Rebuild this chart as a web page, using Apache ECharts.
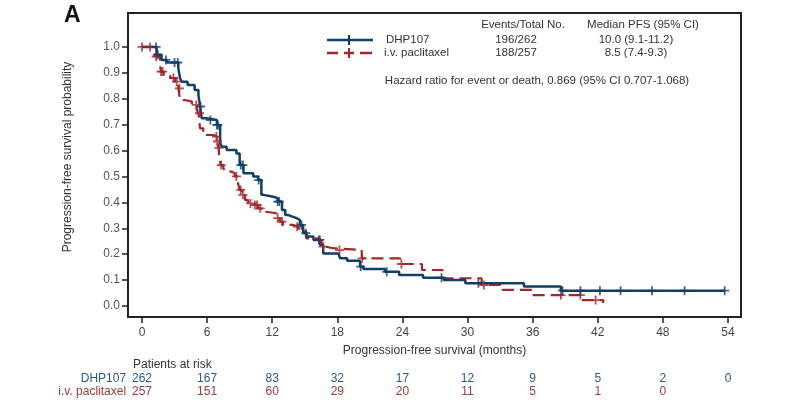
<!DOCTYPE html>
<html>
<head>
<meta charset="utf-8">
<script src="https://cdn.jsdelivr.net/npm/echarts@6/dist/echarts.min.js"></script>
<style>
  html, body { margin: 0; padding: 0; background: #fff; }
  #chart { width: 800px; height: 406px; }
</style>
</head>
<body>
<div id="chart"></div>
<script>
// x ticks (months) and y ticks
const months = [0, 6, 12, 18, 24, 30, 36, 42, 48, 54]
const yTicks = [0, 0.1, 0.2, 0.3, 0.4, 0.5, 0.6, 0.7, 0.8, 0.9, 1.0]

// DHP107 KM steps (time, survival after the step)
const dhpTimes = [0, 1.35, 1.8, 2.3, 3.35, 3.5, 3.65, 4.2, 4.85, 5.2, 5.35, 5.5, 5.95, 6.9, 7.2, 7.35, 7.8, 8.7, 9.0, 9.35,
  10.25, 10.7, 11.0, 11.2, 12.1, 12.5, 12.9, 13.2, 13.5, 13.8, 14.25, 14.55, 14.85, 15.15, 15.8, 16.4, 16.7, 18.1, 18.25, 18.9,
  20.1, 20.4, 22.4, 23.7, 25.9, 27.8, 29.8, 35.2, 38.6, 53.7]
const dhpSurv = [1.0, 0.97, 0.95, 0.94, 0.917, 0.88, 0.866, 0.853, 0.834, 0.815, 0.77, 0.725, 0.718, 0.699, 0.63, 0.615, 0.602, 0.589, 0.544, 0.512,
  0.5, 0.486, 0.429, 0.422, 0.416, 0.403, 0.371, 0.351, 0.346, 0.339, 0.332, 0.313, 0.281, 0.268, 0.255, 0.236, 0.203, 0.197, 0.184, 0.175,
  0.152, 0.143, 0.132, 0.12, 0.109, 0.1, 0.088, 0.075, 0.059, 0.059]
const dhpCensor = [1.3, 1.45, 2.2, 3.0, 3.3, 5.4, 6.3, 6.9, 7.0, 9.1, 9.3, 10.75, 12.5, 12.65, 14.7, 15.1, 16.3,
  20.15, 22.55, 27.6, 31.0, 38.75, 40.4, 42.2, 44.1, 47.0, 50.0, 53.7]

// i.v. paclitaxel KM steps
const pacTimes = [0, 1.05, 1.2, 1.65, 1.75, 2.0, 2.6, 3.05, 3.35, 3.5, 3.95, 4.6, 5.05, 5.2, 5.35, 5.65, 6.6, 6.9, 7.05, 7.15,
  7.25, 7.5, 7.65, 8.25, 8.55, 8.85, 9.0, 9.2, 9.5, 9.8, 10.25, 10.7, 11.0, 11.35, 12.4, 12.7, 13.0, 13.95, 14.4, 14.55,
  15.15, 16.1, 16.55, 16.9, 17.6, 20.25, 23.8, 25.8, 27.7, 31.3, 33.2, 36.0, 40.5, 42.3, 42.5]
const pacSurv = [1.0, 0.988, 0.963, 0.93, 0.905, 0.892, 0.88, 0.866, 0.84, 0.795, 0.789, 0.776, 0.757, 0.744, 0.686, 0.66, 0.654, 0.635, 0.61, 0.564,
  0.544, 0.532, 0.519, 0.512, 0.5, 0.474, 0.448, 0.429, 0.409, 0.396, 0.39, 0.377, 0.364, 0.358, 0.339, 0.326, 0.313, 0.306, 0.3, 0.287,
  0.261, 0.255, 0.229, 0.223, 0.216, 0.184, 0.162, 0.139, 0.107, 0.081, 0.062, 0.042, 0.023, 0.023, 0.012]
const pacCensor = [0, 0.75, 1.3, 1.75, 1.9, 2.9, 3.2, 3.45, 5.0, 5.3, 6.85, 6.95, 7.1, 7.3, 8.7, 9.1, 9.3, 10.0, 10.4, 10.6, 10.9,
  12.5, 12.9, 14.3, 16.4, 16.7, 18.2, 20.3, 23.9, 31.5, 38.6, 40.4, 41.8]

// patients at risk
const riskDhp = [262, 167, 83, 32, 17, 12, 9, 5, 2, 0]
const riskPac = [257, 151, 60, 29, 20, 11, 5, 1, 0]

const blue = '#123f6a'
const red = '#a3262b'
const narrow = '"Liberation Sans Narrow", "Liberation Sans", Arial, sans-serif'
const sans = '"Liberation Sans", Arial, sans-serif'
const plus = 'path://M-1,-5H1V-1H5V1H1V5H-1V1H-5V-1H-1Z'

function survAt(times, surv, t) {
  let s = surv[0]
  for (let i = 0; i < times.length; i++) {
    if (times[i] <= t) s = surv[i]
  }
  return s
}

const chart = echarts.init(document.getElementById('chart'))

function riskAxis(name, values, color, offset) {
  return {
    type: 'value',
    gridIndex: 0,
    position: 'bottom',
    offset,
    min: -1.29,
    max: 55.2,
    axisLine: { show: false, onZero: false },
    axisTick: { show: false },
    splitLine: { show: false },
    axisLabel: {
      customValues: months,
      margin: 0,
      color,
      fontFamily: narrow,
      fontSize: 12,
      formatter: v => {
        const i = months.indexOf(v)
        return i >= 0 && i < values.length ? String(values[i]) : ''
      }
    },
    name,
    nameLocation: 'start',
    nameGap: 1,
    nameTextStyle: { color, fontFamily: narrow, fontSize: 12, align: 'right', verticalAlign: 'top' }
  }
}

chart.setOption({
  animation: false,
  grid: {
    left: 128, top: 13, right: 59, bottom: 89,
    show: true, borderColor: '#222', borderWidth: 2
  },
  xAxis: [
    {
      type: 'value',
      min: -1.29,
      max: 55.2,
      axisLine: { show: false, onZero: false },
      splitLine: { show: false },
      axisTick: { show: true, customValues: months, length: 6, lineStyle: { color: '#222', width: 1.5 } },
      axisLabel: { customValues: months, margin: 10, color: '#444', fontFamily: narrow, fontSize: 12 },
      name: 'Progression-free survival (months)',
      nameLocation: 'middle',
      nameGap: 28,
      nameTextStyle: { color: '#333', fontFamily: narrow, fontSize: 12 }
    },
    riskAxis('DHP107', riskDhp, '#2a5a8a', 56),
    riskAxis('i.v. paclitaxel', riskPac, '#a03a3a', 69)
  ],
  yAxis: {
    type: 'value',
    min: -0.0425,
    max: 1.131,
    axisLine: { show: false, onZero: false },
    splitLine: { show: false },
    axisTick: { show: true, customValues: yTicks, length: 6, lineStyle: { color: '#222', width: 1.5 } },
    axisLabel: { customValues: yTicks, margin: 8, color: '#555', fontFamily: sans, fontSize: 12, formatter: v => v.toFixed(1) }
  },
  graphic: [
    { type: 'text', x: 64, y: 4, style: { text: 'A', font: 'bold 23px ' + sans, fill: '#111' } },
    { type: 'text', x: 68, y: 157, rotation: Math.PI / 2,
      style: { text: 'Progression-free survival probability', font: '12px ' + sans, fill: '#333', align: 'center', verticalAlign: 'middle' } },
    { type: 'text', x: 133, y: 365,
      style: { text: 'Patients at risk', font: '12px ' + narrow, fill: '#333', align: 'left', verticalAlign: 'middle' } },
    // legend table
    { type: 'text', x: 523, y: 25, style: { text: 'Events/Total No.', font: '11.5px ' + sans, fill: '#333', align: 'center', verticalAlign: 'middle' } },
    { type: 'text', x: 643, y: 25, style: { text: 'Median PFS (95% CI)', font: '11.5px ' + sans, fill: '#333', align: 'center', verticalAlign: 'middle' } },
    { type: 'line', shape: { x1: 327, y1: 40, x2: 373, y2: 40 }, style: { stroke: blue, lineWidth: 2.5 } },
    { type: 'line', shape: { x1: 349, y1: 35, x2: 349, y2: 45 }, style: { stroke: blue, lineWidth: 2 } },
    { type: 'text', x: 386, y: 40, style: { text: 'DHP107', font: '11.5px ' + sans, fill: '#333', align: 'left', verticalAlign: 'middle' } },
    { type: 'text', x: 516, y: 40, style: { text: '196/262', font: '11.5px ' + sans, fill: '#333', align: 'center', verticalAlign: 'middle' } },
    { type: 'text', x: 636, y: 40, style: { text: '10.0 (9.1-11.2)', font: '11.5px ' + sans, fill: '#333', align: 'center', verticalAlign: 'middle' } },
    { type: 'line', shape: { x1: 327, y1: 53, x2: 338, y2: 53 }, style: { stroke: red, lineWidth: 2.5 } },
    { type: 'line', shape: { x1: 344, y1: 53, x2: 354, y2: 53 }, style: { stroke: red, lineWidth: 2.5 } },
    { type: 'line', shape: { x1: 349, y1: 48, x2: 349, y2: 58 }, style: { stroke: red, lineWidth: 2 } },
    { type: 'line', shape: { x1: 360, y1: 53, x2: 372, y2: 53 }, style: { stroke: red, lineWidth: 2.5 } },
    { type: 'text', x: 384, y: 53, style: { text: 'i.v. paclitaxel', font: '11.5px ' + sans, fill: '#333', align: 'left', verticalAlign: 'middle' } },
    { type: 'text', x: 516, y: 53, style: { text: '188/257', font: '11.5px ' + sans, fill: '#333', align: 'center', verticalAlign: 'middle' } },
    { type: 'text', x: 636, y: 53, style: { text: '8.5 (7.4-9.3)', font: '11.5px ' + sans, fill: '#333', align: 'center', verticalAlign: 'middle' } },
    { type: 'text', x: 537, y: 81, style: { text: 'Hazard ratio for event or death, 0.869 (95% CI 0.707-1.068)', font: '11.5px ' + sans, fill: '#333', align: 'center', verticalAlign: 'middle' } }
  ],
  series: [
    {
      name: 'i.v. paclitaxel',
      type: 'line',
      step: 'end',
      showSymbol: false,
      data: pacTimes.map((t, i) => [t, pacSurv[i]]),
      lineStyle: { color: red, width: 2.2, type: [12, 6] },
      z: 2
    },
    {
      name: 'DHP107',
      type: 'line',
      step: 'end',
      showSymbol: false,
      data: dhpTimes.map((t, i) => [t, dhpSurv[i]]),
      lineStyle: { color: blue, width: 2.5 },
      z: 3
    },
    {
      type: 'scatter',
      symbol: plus,
      symbolSize: 9,
      data: pacCensor.map(t => [t, survAt(pacTimes, pacSurv, t)]),
      itemStyle: { color: red },
      z: 4
    },
    {
      type: 'scatter',
      symbol: plus,
      symbolSize: 9,
      data: dhpCensor.map(t => [t, survAt(dhpTimes, dhpSurv, t)]),
      itemStyle: { color: blue },
      z: 5
    }
  ]
})
</script>
</body>
</html>
